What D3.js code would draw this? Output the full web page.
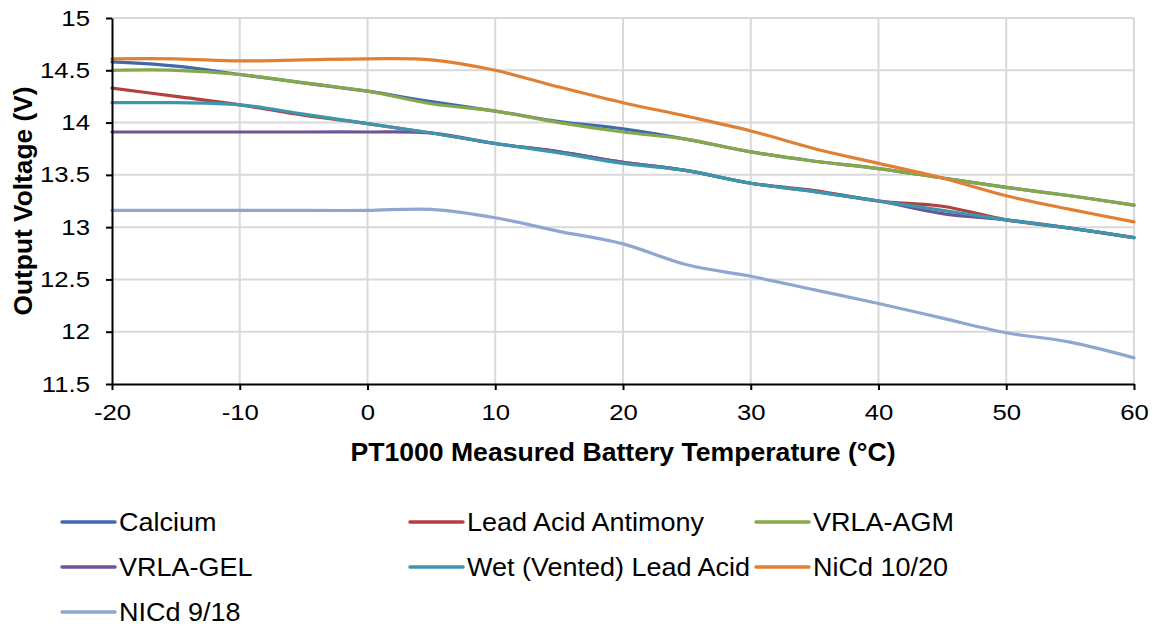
<!DOCTYPE html>
<html lang="en">
<head>
<meta charset="utf-8">
<script src="https://cdnjs.cloudflare.com/ajax/libs/d3/7.8.5/d3.min.js"></script>
<style>
  body { margin: 0; background: #fff; }
  text { font-family: "Liberation Sans", Arial, sans-serif; fill: #000; }
  .grid line { stroke: #d9d9d9; stroke-width: 2; }
  .axis path, .axis line { stroke: #000; stroke-width: 2; }
  .axis text { font-size: 22px; }
</style>
</head>
<body>
<script>
// temperatures (°C) and output voltage per battery type
var temps = [-20, -15, -10, -5, 0, 5, 10, 15, 20, 25, 30, 35, 40, 45, 50, 55, 60];

var calcium   = [14.58, 14.54, 14.46, 14.38, 14.30, 14.20, 14.11, 14.01, 13.94, 13.84, 13.72, 13.63, 13.56, 13.47, 13.38, 13.30, 13.21];
var antimony  = [14.33, 14.25, 14.17, 14.07, 13.99, 13.90, 13.80, 13.72, 13.62, 13.54, 13.42, 13.35, 13.25, 13.20, 13.07, 12.99, 12.90];
var agm       = [14.50, 14.50, 14.46, 14.38, 14.30, 14.18, 14.11, 14.00, 13.91, 13.84, 13.72, 13.63, 13.56, 13.47, 13.38, 13.30, 13.21];
var gel       = [13.91, 13.91, 13.91, 13.91, 13.91, 13.90, 13.80, 13.72, 13.62, 13.54, 13.42, 13.34, 13.25, 13.13, 13.07, 12.99, 12.90];
var wet       = [14.19, 14.19, 14.17, 14.08, 13.99, 13.90, 13.80, 13.71, 13.61, 13.54, 13.42, 13.34, 13.25, 13.16, 13.07, 12.99, 12.90];
var nicd1020  = [14.61, 14.61, 14.59, 14.60, 14.61, 14.60, 14.50, 14.34, 14.19, 14.06, 13.92, 13.75, 13.61, 13.47, 13.30, 13.17, 13.05];
var nicd918   = [13.16, 13.16, 13.16, 13.16, 13.16, 13.17, 13.09, 12.96, 12.84, 12.64, 12.53, 12.40, 12.27, 12.13, 11.99, 11.90, 11.75];

var seriesNames = ["Calcium", "Lead Acid Antimony", "VRLA-AGM", "VRLA-GEL", "Wet (Vented) Lead Acid", "NiCd 10/20", "NICd 9/18"];
var seriesValues = [calcium, antimony, agm, gel, wet, nicd1020, nicd918];
var colors = ["#3f6bad", "#b0413e", "#86a84b", "#6e5495", "#3c97ae", "#e08035", "#8fa7cf"];

var xTicks = [-20, -10, 0, 10, 20, 30, 40, 50, 60];
var yTicks = [11.5, 12, 12.5, 13, 13.5, 14, 14.5, 15];

var W = 1153, H = 626;
var margin = {top: 18, right: 19, bottom: 242, left: 112};
var width = W - margin.left - margin.right,
    height = H - margin.top - margin.bottom;

var svg = d3.select("body").append("svg")
    .attr("width", W)
    .attr("height", H);

var g = svg.append("g")
    .attr("transform", "translate(" + margin.left + "," + margin.top + ")");

var x = d3.scaleLinear().domain([-20, 60]).range([0, width]);
var y = d3.scaleLinear().domain([11.5, 15]).range([height, 0]);

// gridlines
var grid = g.append("g").attr("class", "grid");
grid.selectAll(".h").data(yTicks.slice(1)).enter().append("line")
    .attr("x1", 0).attr("x2", width)
    .attr("y1", function(d) { return y(d); })
    .attr("y2", function(d) { return y(d); });
grid.selectAll(".v").data(xTicks.slice(1)).enter().append("line")
    .attr("y1", 0).attr("y2", height)
    .attr("x1", function(d) { return x(d); })
    .attr("x2", function(d) { return x(d); });

// lines
var line = d3.line()
    .x(function(d, i) { return x(temps[i]); })
    .y(function(d) { return y(d); })
    .curve(d3.curveCardinal.tension(0));

g.selectAll(".series").data(seriesValues).enter().append("path")
    .attr("class", "series")
    .attr("fill", "none")
    .attr("stroke", function(d, i) { return colors[i]; })
    .attr("stroke-width", 3.2)
    .attr("stroke-linecap", "round")
    .attr("d", line);

// axes (text a little wider than Liberation Sans, like the original)
var plain = function(d) { return String(d); };

g.append("g")
    .attr("class", "axis")
    .attr("transform", "translate(0," + height + ")")
    .call(d3.axisBottom(x).tickValues(xTicks).tickSize(6).tickPadding(14).tickSizeOuter(0).tickFormat(plain))
    .selectAll("text")
    .attr("dy", "0.71em")
    .attr("transform", "scale(1.17,1)");

g.append("g")
    .attr("class", "axis")
    .call(d3.axisLeft(y).tickValues(yTicks).tickSize(6).tickPadding(16).tickSizeOuter(0).tickFormat(plain))
    .selectAll("text")
    .attr("x", 0)
    .attr("transform", "translate(-22,0) scale(1.17,1)");

// axis titles
svg.append("text")
    .attr("x", margin.left + width / 2)
    .attr("y", 461)
    .attr("text-anchor", "middle")
    .style("font-size", "26.6px")
    .style("font-weight", "bold")
    .text("PT1000 Measured Battery Temperature (°C)");

svg.append("text")
    .attr("transform", "translate(32," + (margin.top + height / 2) + ") rotate(-90)")
    .attr("text-anchor", "middle")
    .style("font-size", "26.3px")
    .style("font-weight", "bold")
    .text("Output Voltage (V)");

// legend
var colX = [62, 410, 756];
var rowY = [522, 567, 612];
var legend = svg.selectAll(".legend").data(seriesNames).enter().append("g")
    .attr("class", "legend")
    .attr("transform", function(d, i) {
      return "translate(" + colX[i % 3] + "," + rowY[Math.floor(i / 3)] + ")";
    });
legend.append("line")
    .attr("x1", 0).attr("x2", 53)
    .attr("stroke", function(d, i) { return colors[i]; })
    .attr("stroke-width", 3.5)
    .attr("stroke-linecap", "round");
legend.append("text")
    .attr("transform", "translate(57,0) scale(1.08,1)")
    .attr("dy", "0.35em")
    .style("font-size", "25px")
    .text(function(d) { return d; });
</script>
</body>
</html>
